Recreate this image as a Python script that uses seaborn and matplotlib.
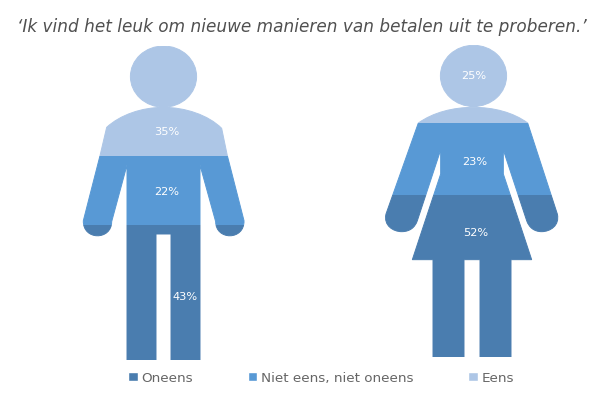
import matplotlib
matplotlib.use("Agg")
import matplotlib.pyplot as plt
import pandas as pd
import seaborn as sns
from matplotlib.patches import PathPatch, Patch
from matplotlib.path import Path
from matplotlib.transforms import Affine2D

# Survey shares per figure, stacked from the feet upwards
answers = ["Oneens", "Niet eens, niet oneens", "Eens"]
man_values = [43, 22, 35]
woman_values = [52, 23, 25]
answer_colors = ["#4A7DAF", "#5899D5", "#ADC6E6"]
title_text = "‘Ik vind het leuk om nieuwe manieren van betalen uit te proberen.’"

W, H = 605, 402
sns.set_theme(style="white")
plt.rcParams["font.family"] = ["DejaVu Sans"]

fig = plt.figure(figsize=(W / 100, H / 100), dpi=100, facecolor="white")
# Pixel-style layout coordinates with the origin at the top left
px = Affine2D().scale(1 / W, -1 / H).translate(0, 1) + fig.transFigure

M, L, C = Path.MOVETO, Path.LINETO, Path.CURVE4


def outline(ops, ox, oy, scale=1 / 3):
    verts, codes = [], []
    for code, pts in ops:
        for x, y in pts:
            verts.append((ox + x * scale, oy + y * scale))
            codes.append(code)
    verts.append(verts[0])
    codes.append(Path.CLOSEPOLY)
    return Path(verts, codes)


def head(cx, cy, rx, ry):
    circle = Path.unit_circle()
    return circle.transformed(Affine2D().scale(rx, ry).translate(cx, cy))


man_body = outline([
    (M, [(280, 205)]),
    (C, [(215, 205), (150, 228), (110, 265)]),
    (L, [(90, 350), (40, 545)]),
    (C, [(38, 605), (125, 605), (125, 548)]),
    (L, [(171, 378), (171, 963), (258, 963), (258, 585), (303, 585),
         (303, 963), (390, 963), (390, 378), (437, 548)]),
    (C, [(437, 605), (524, 605), (522, 545)]),
    (L, [(472, 350), (455, 268)]),
    (C, [(415, 228), (345, 205), (280, 205)]),
], 70, 40)
man_shape = Path.make_compound_path(man_body, head(163.5, 77.6, 33.1, 30.6))

woman_body = outline([
    (M, [(295, 205)]),
    (C, [(235, 205), (175, 220), (130, 252)]),
    (L, [(33, 525)]),
    (C, [(25, 560), (55, 578), (80, 578)]),
    (C, [(105, 578), (120, 565), (127, 545)]),
    (L, [(197, 333), (197, 405), (112, 662), (174, 662), (174, 955),
         (267, 955), (267, 662), (315, 662), (315, 955), (408, 955),
         (408, 662), (470, 662), (385, 405), (385, 333), (455, 545)]),
    (C, [(462, 565), (477, 578), (500, 578)]),
    (C, [(525, 578), (555, 560), (547, 525)]),
    (L, [(458, 252)]),
    (C, [(415, 220), (355, 205), (295, 205)]),
], 375, 40)
woman_shape = Path.make_compound_path(woman_body, head(473.5, 76.9, 33.1, 30.6))


def stacked_figure(name, values, shape, box, label_xy):
    left, top, right, bottom = box
    ax = fig.add_axes([left / W, 1 - bottom / H, (right - left) / W, (bottom - top) / H])
    clip = PathPatch(shape, transform=px)
    base = 0
    for value, color in zip(values, answer_colors):
        frame = pd.DataFrame({"figuur": [name], "aandeel": [value]})
        sns.barplot(data=frame, x="figuur", y="aandeel", color=color, saturation=1,
                    width=1, bottom=base, errorbar=None, linewidth=0, ax=ax)
        for bar in ax.containers[-1]:
            bar.set_clip_path(clip)
        base += value
    ax.set_xlim(-0.5, 0.5)
    ax.set_ylim(0, 100)
    ax.set_axis_off()
    # A thin stroke per band smooths the silhouette edge of each stacked bar
    for container, color in zip(ax.containers, answer_colors):
        for bar in container:
            edge = PathPatch(shape, transform=px, facecolor="none", edgecolor=color,
                             linewidth=0.7, clip_on=True)
            ax.add_artist(edge)
            edge.set_clip_box(ax.transData.transform_bbox(bar.get_bbox()))
    for value, (x, y) in zip(values, label_xy):
        fig.text(x, y, f"{value}%", transform=px, color="white", fontsize=8.2,
                 ha="center", va="center")


stacked_figure("Man", man_values, man_shape, (70, 46.7, 260, 361),
               [(185.5, 296.7), (166.3, 192), (166.3, 132.5)])
stacked_figure("Vrouw", woman_values, woman_shape, (375, 45.7, 565, 358.3),
               [(476, 232.7), (475, 161.7), (474, 76)])

fig.text(301.5, 26.5, title_text, transform=px, style="italic", color="#505050",
         fontsize=12.2, ha="center", va="center")

handles = [Patch(facecolor=c, label=a) for a, c in zip(answers, answer_colors)]
fig.legend(handles=handles, ncol=3, frameon=False, fontsize=9.7, labelcolor="#666666",
           handlelength=0.7, handleheight=0.7, handletextpad=0.25, columnspacing=4.1,
           loc="center", bbox_to_anchor=(321 / W, 1 - 378.5 / H), borderpad=0)

fig.savefig("out.png", dpi=100, facecolor="white")
